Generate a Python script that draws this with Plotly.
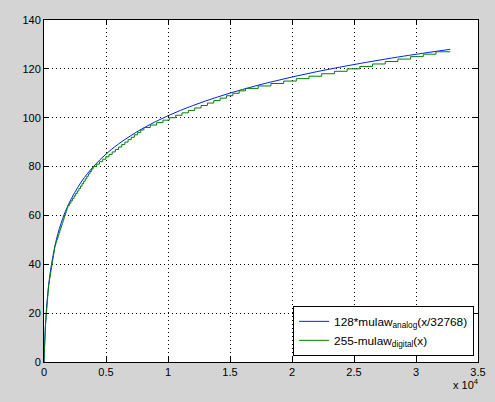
import plotly.graph_objects as go

# blue curve: 128*mulaw_analog(x/32768)
analog_x = [0, 10, 25, 50, 100, 250, 500, 1000, 1500, 2000, 3000, 4000, 5000,
            6000, 8000, 10000, 12000, 14000, 16000, 18000, 20000, 22000, 24000,
            26000, 28000, 30000, 32767]
analog_y = [0, 1.73, 4.10, 7.59, 13.29, 24.94, 36.64, 50.15, 58.62, 64.80, 73.69,
            80.09, 85.10, 89.21, 95.73, 100.81, 104.97, 108.49, 111.55, 114.25,
            116.66, 118.85, 120.84, 122.68, 124.39, 125.97, 128.0]

# green staircase: 255-mulaw_digital(x), x where each level starts
digital_x = [0, 4, 12, 20, 28, 36, 44, 52, 60, 68, 76, 84, 92, 100, 108, 116,
             124, 140, 156, 172, 188, 204, 220, 236, 252, 268, 284, 300, 316, 332, 348, 364,
             380, 412, 444, 476, 508, 540, 572, 604, 636, 668, 700, 732, 764, 796, 828, 860,
             892, 956, 1020, 1084, 1148, 1212, 1276, 1340, 1404, 1468, 1532, 1596, 1660, 1724, 1788, 1852,
             1916, 2044, 2172, 2300, 2428, 2556, 2684, 2812, 2940, 3068, 3196, 3324, 3452, 3580, 3708, 3836,
             3964, 4220, 4476, 4732, 4988, 5244, 5500, 5756, 6012, 6268, 6524, 6780, 7036, 7292, 7548, 7804,
             8060, 8572, 9084, 9596, 10108, 10620, 11132, 11644, 12156, 12668, 13180, 13692, 14204, 14716, 15228, 15740,
             16252, 17276, 18300, 19324, 20348, 21372, 22396, 23420, 24444, 25468, 26492, 27516, 28540, 29564, 30588, 31612,
             32767]
digital_y = list(range(128)) + [127]

x_ticks = [0, 5000, 10000, 15000, 20000, 25000, 30000, 35000]
x_labels = ['0', '0.5', '1', '1.5', '2', '2.5', '3', '3.5']
y_ticks = [0, 20, 40, 60, 80, 100, 120, 140]

fig = go.Figure()

fig.add_trace(go.Scatter(x=analog_x, y=analog_y, mode='lines',
                         name='128*mulaw<sub>analog</sub>(x/32768)',
                         line=dict(color='#0022ff', width=1, shape='spline')))
fig.add_trace(go.Scatter(x=digital_x, y=digital_y, mode='lines',
                         name='255-mulaw<sub>digital</sub>(x)',
                         line=dict(color='#008000', width=1, shape='hv')))

axis_style = dict(showline=True, linecolor='black', linewidth=1, mirror='ticks',
                  ticks='inside', ticklen=5, tickcolor='black', automargin=False,
                  showgrid=True, gridcolor='black', griddash='1px,3px', gridwidth=1,
                  zeroline=False, tickfont=dict(size=11, color='black'))

fig.update_xaxes(range=[0, 35000], tickvals=x_ticks, ticktext=x_labels, **axis_style)
fig.update_yaxes(range=[0, 140], tickvals=y_ticks, **axis_style)

fig.add_annotation(text='x 10<sup>4</sup>', xref='paper', yref='paper',
                   x=1.007, y=-0.038, xanchor='right', yanchor='top', showarrow=False,
                   font=dict(size=11, color='black'))

fig.update_layout(
    width=495, height=402,
    margin=dict(l=44, r=17, t=20, b=40),
    paper_bgcolor='#d4d4d4', plot_bgcolor='white',
    font=dict(family='Liberation Sans, Arial, sans-serif', size=11, color='black'),
    showlegend=True,
    legend=dict(x=0.991, y=0.018, xanchor='right', yanchor='bottom',
                bgcolor='white', bordercolor='black', borderwidth=1,
                font=dict(size=11.8), tracegroupgap=0),
)

fig.write_html("out.html", config={'displayModeBar': False},
               post_script="document.body.style.margin='0';"
                           "document.body.style.background='#d4d4d4';")
